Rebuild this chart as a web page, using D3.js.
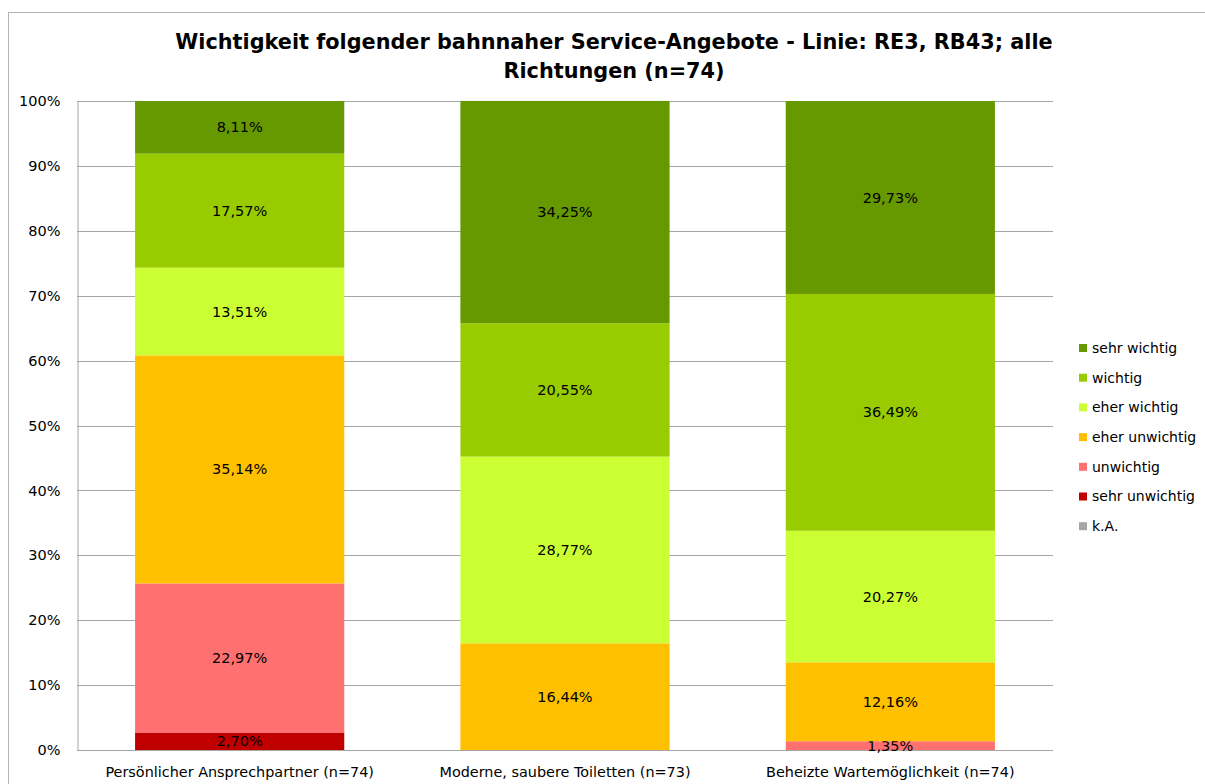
<!DOCTYPE html>
<html>
<head>
<meta charset="utf-8">
<script src="https://cdn.jsdelivr.net/npm/d3@7"></script>
<style>
  body { margin: 0; background: #fff; }
  text { font-family: Tahoma, "DejaVu Sans", sans-serif; fill: #000; }
</style>
</head>
<body>
<div id="chart"></div>
<script>
const svgWidth = 1205;
const svgHeight = 784;

// data
const categories = ['Persönlicher Ansprechpartner (n=74)', 'Moderne, saubere Toiletten (n=73)', 'Beheizte Wartemöglichkeit (n=74)'];
const seriesNames = ['k.A.', 'sehr unwichtig', 'unwichtig', 'eher unwichtig', 'eher wichtig', 'wichtig', 'sehr wichtig'];
const seriesColors = ['#a6a6a6', '#c00000', '#ff7171', '#ffc000', '#ccff33', '#99cc00', '#669900'];
const kA = [0, 0, 0];
const sehrUnwichtig = [2.70, 0, 0];
const unwichtig = [22.97, 0, 1.35];
const eherUnwichtig = [35.14, 16.44, 12.16];
const eherWichtig = [13.51, 28.77, 20.27];
const wichtig = [17.57, 20.55, 36.49];
const sehrWichtig = [8.11, 34.25, 29.73];
const seriesValues = [kA, sehrUnwichtig, unwichtig, eherUnwichtig, eherWichtig, wichtig, sehrWichtig];
const yTicks = [0, 10, 20, 30, 40, 50, 60, 70, 80, 90, 100];

const margin = { top: 101, bottom: 34, left: 77, right: 152 };

document.addEventListener('DOMContentLoaded', function () {
    const svg = d3.select('#chart')
        .append('svg')
        .attr('width', svgWidth)
        .attr('height', svgHeight);

    // chart border (runs off the page on the right and bottom)
    svg.append('rect')
        .attr('x', 8.5).attr('y', 12.5)
        .attr('width', 1300).attr('height', 900)
        .attr('fill', 'none')
        .attr('stroke', '#b3b3b3');

    const xScale = d3.scaleBand()
        .domain(categories)
        .range([margin.left, svgWidth - margin.right])
        .paddingInner(0.357)
        .paddingOuter(0.1785);

    const yScale = d3.scaleLinear()
        .domain([0, 100])
        .range([svgHeight - margin.bottom, margin.top]);

    // gridlines
    svg.append('g')
        .selectAll('line')
        .data(yTicks)
        .enter()
        .append('line')
        .attr('x1', margin.left)
        .attr('x2', svgWidth - margin.right)
        .attr('y1', d => Math.round(yScale(d)) + 0.5)
        .attr('y2', d => Math.round(yScale(d)) + 0.5)
        .attr('stroke', '#a6a6a6');

    // y axis
    const yAxis = svg.append('g')
        .attr('transform', `translate(${margin.left + 0.5}, 0)`)
        .call(d3.axisLeft(yScale).tickValues(yTicks).tickSize(0).tickPadding(17).tickFormat(d => d + '%'));
    yAxis.select('.domain').attr('stroke', '#a6a6a6');
    yAxis.selectAll('.tick text')
        .style('font-size', '14.5px')
        .style('font-family', 'Tahoma, "DejaVu Sans", sans-serif');

    // stacked bars
    const rows = categories.map((c, i) => {
        const r = { category: c };
        seriesNames.forEach((s, j) => { r[s] = seriesValues[j][i]; });
        return r;
    });
    const stacked = d3.stack().keys(seriesNames)(rows);

    const layers = svg.append('g')
        .selectAll('g')
        .data(stacked)
        .enter()
        .append('g')
        .attr('fill', (d, i) => seriesColors[i]);

    layers.selectAll('rect')
        .data(d => d)
        .enter()
        .append('rect')
        .attr('x', d => xScale(d.data.category))
        .attr('y', d => yScale(d[1]))
        .attr('width', xScale.bandwidth())
        .attr('height', d => yScale(d[0]) - yScale(d[1]));

    // data labels
    layers.selectAll('text')
        .data(d => d.filter(p => p[1] - p[0] > 0))
        .enter()
        .append('text')
        .attr('x', d => xScale(d.data.category) + xScale.bandwidth() / 2)
        .attr('y', d => yScale((d[0] + d[1]) / 2))
        .attr('dy', '0.35em')
        .attr('text-anchor', 'middle')
        .style('font-size', '14.5px')
        .style('fill', '#000')
        .text(d => (d[1] - d[0]).toFixed(2).replace('.', ',') + '%');

    // x axis labels
    svg.append('g')
        .selectAll('text')
        .data(categories)
        .enter()
        .append('text')
        .attr('x', d => xScale(d) + xScale.bandwidth() / 2)
        .attr('y', 777)
        .attr('text-anchor', 'middle')
        .style('font-size', '14.4px')
        .text(d => d);

    // title
    const title = svg.append('text')
        .attr('x', 614)
        .attr('y', 49)
        .attr('text-anchor', 'middle')
        .style('font-size', '20.8px')
        .style('font-weight', 'bold');
    title.append('tspan').attr('x', 614).text('Wichtigkeit folgender bahnnaher Service-Angebote - Linie: RE3, RB43; alle');
    title.append('tspan').attr('x', 614).attr('dy', 29).text('Richtungen (n=74)');

    // legend (top entry = sehr wichtig)
    const legendItems = seriesNames.map((s, i) => ({ name: s, color: seriesColors[i] })).reverse();
    const legend = svg.append('g')
        .selectAll('g')
        .data(legendItems)
        .enter()
        .append('g')
        .attr('transform', (d, i) => `translate(1079, ${348 + i * 29.7})`);
    legend.append('rect')
        .attr('x', 0).attr('y', -4)
        .attr('width', 8).attr('height', 8)
        .attr('fill', d => d.color);
    legend.append('text')
        .attr('x', 13)
        .attr('dy', '0.35em')
        .style('font-size', '14px')
        .text(d => d.name);
});
</script>
</body>
</html>
